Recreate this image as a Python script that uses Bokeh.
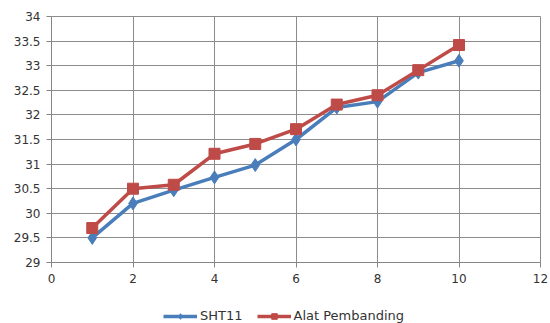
from bokeh.plotting import figure
from bokeh.models import Range1d, FixedTicker, Legend, LegendItem
from bokeh.layouts import column
from bokeh.embed import file_html
from bokeh.resources import INLINE

x = [1, 2, 3, 4, 5, 6, 7, 8, 9, 10]
sht11 = [29.5, 30.2, 30.47, 30.73, 30.98, 31.5, 32.15, 32.27, 32.86, 33.1]
alat = [29.7, 30.5, 30.58, 31.21, 31.41, 31.71, 32.21, 32.4, 32.91, 33.42]
x_ticks = [0, 2, 4, 6, 8, 10, 12]
y_ticks = [29, 29.5, 30, 30.5, 31, 31.5, 32, 32.5, 33, 33.5, 34]
series_names = ["SHT11", "Alat Pembanding"]

p = figure(width=550, height=293, output_backend="svg", toolbar_location=None,
           x_range=Range1d(0, 12), y_range=Range1d(29, 34),
           min_border_left=51, min_border_right=10, min_border_top=16, min_border_bottom=31)

font = "DejaVu Sans"
for ax in (p.xaxis[0], p.yaxis[0]):
    ax.axis_line_color = "#868686"
    ax.major_tick_line_color = "#868686"
    ax.minor_tick_line_color = None
    ax.major_tick_in = 0
    ax.major_tick_out = 5
    ax.major_label_text_font = font
    ax.major_label_text_font_size = "12px"
    ax.major_label_text_color = "#333333"
p.xaxis.ticker = FixedTicker(ticks=x_ticks)
p.yaxis.ticker = FixedTicker(ticks=y_ticks)
p.xaxis.major_label_standoff = 6
p.yaxis.major_label_standoff = 6
p.grid.grid_line_color = "#8c8c8c"
p.grid.grid_line_width = 1
p.outline_line_color = "#8c8c8c"

blue = "#4a7ebb"
red = "#be4b48"
p.line(x, sht11, line_color=blue, line_width=3.5)
p.scatter(x, sht11, marker="diamond", size=13, fill_color=blue, line_color=blue)
p.line(x, alat, line_color=red, line_width=3.5)
p.scatter(x, alat, marker="square", size=11, fill_color=red, line_color=red)

# legend strip below the chart (series drawn out of view, only the legend shows)
q = figure(width=550, height=30, output_backend="svg", toolbar_location=None,
           x_range=Range1d(-100, -99), y_range=Range1d(0, 1),
           min_border_left=0, min_border_right=0, min_border_top=0, min_border_bottom=0)
q.axis.visible = False
q.grid.visible = False
q.outline_line_color = None
r1 = q.line(x, sht11, line_color=blue, line_width=3.5)
s1 = q.scatter(x, sht11, marker="diamond", size=13, fill_color=blue, line_color=blue)
r2 = q.line(x, alat, line_color=red, line_width=3.5)
s2 = q.scatter(x, alat, marker="square", size=11, fill_color=red, line_color=red)

legend = Legend(items=[LegendItem(label=series_names[0], renderers=[r1, s1]),
                       LegendItem(label=series_names[1], renderers=[r2, s2])],
                orientation="horizontal", location=(112, 0),
                label_text_font=font, label_text_font_size="13px", label_text_color="#333333",
                glyph_width=34, glyph_height=14, spacing=14, border_line_color=None,
                padding=1, margin=0, label_standoff=3, background_fill_alpha=0)
q.add_layout(legend, "center")

layout = column(p, q, spacing=0)
open("out.html", "w").write(file_html(layout, INLINE))
